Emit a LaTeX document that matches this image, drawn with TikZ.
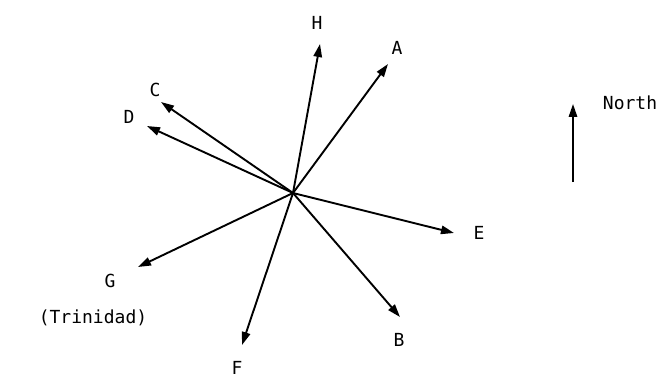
\documentclass[tikz,border=0pt]{standalone}
\usepackage{fontspec}
\setmonofont{DejaVu Sans Mono}
\usetikzlibrary{arrows.meta}

\begin{document}
\begin{tikzpicture}[x=0.5pt, y=-0.5pt]
% styles
\tikzstyle{lettre}=[font=\ttfamily\fontsize{9}{10}\selectfont, inner sep=1pt]
\tikzstyle{vecteur}=[-{Triangle[length=6.5pt, width=4.2pt]}, line width=0.95pt, color=black]

\useasboundingbox (0,0) rectangle (667,379);

% les points
\coordinate (O) at (293,193);
\coordinate (tH) at (320,44);
\coordinate (tA) at (388,64);
\coordinate (tC) at (161,102);
\coordinate (tD) at (147,126);
\coordinate (tE) at (454,233);
\coordinate (tB) at (400,317);
\coordinate (tF) at (242,345);
\coordinate (tG) at (138,267);
\coordinate (Nbas) at (573,182);
\coordinate (Nhaut) at (573,104);

% les étiquettes
\node[lettre] (H) at (317,23) {H};
\node[lettre] (A) at (397,48) {A};
\node[lettre] (C) at (155,90) {C};
\node[lettre] (D) at (129,117) {D};
\node[lettre] (E) at (479,233) {E};
\node[lettre] (B) at (399,340) {B};
\node[lettre] (F) at (237,368) {F};
\node[lettre] (G) at (110,281) {G};
\node[lettre] (T) at (93,318) {(Trinidad)};
\node[lettre] (N) at (630,103) {North};

% les flèches
\foreach \p in {tH,tA,tC,tD,tE,tB,tF,tG}
  \draw[vecteur] (O)--(\p);
\draw[vecteur] (Nbas)--(Nhaut);
\end{tikzpicture}
\end{document}
